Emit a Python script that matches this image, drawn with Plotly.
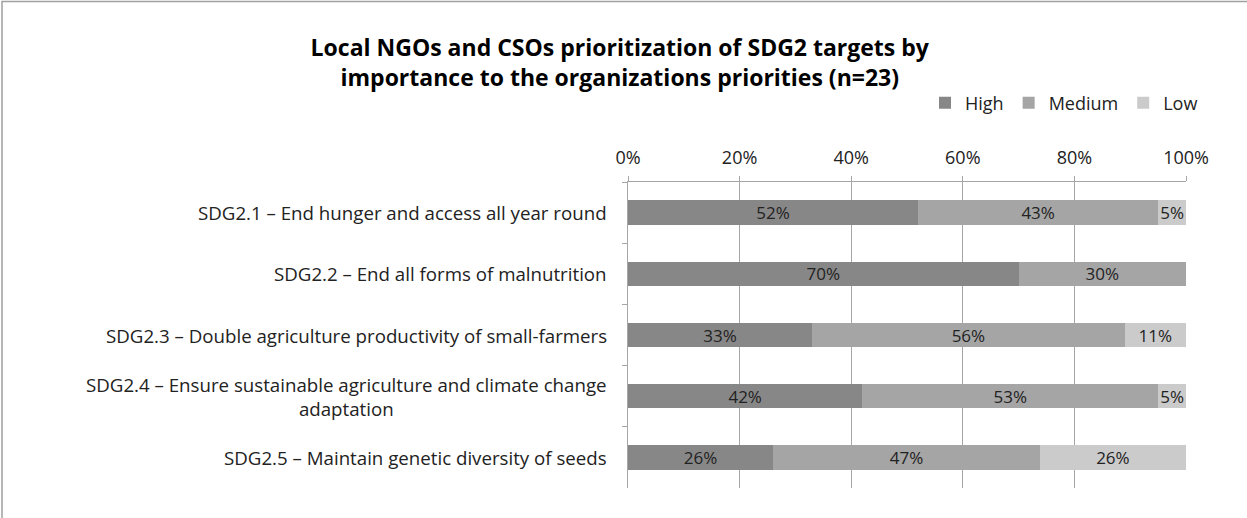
import plotly.graph_objects as go

categories = [
    "SDG2.1 – End hunger and access all year round",
    "SDG2.2 – End all forms of malnutrition",
    "SDG2.3 – Double agriculture productivity of small-farmers",
    "SDG2.4 – Ensure sustainable agriculture and climate change<br>adaptation",
    "SDG2.5 – Maintain genetic diversity of seeds",
]
high = [52, 70, 33, 42, 26]
medium = [43, 30, 56, 53, 47.8]
low = [5, 0, 11, 5, 26.2]
high_labels = ["52%", "70%", "33%", "42%", "26%"]
medium_labels = ["43%", "30%", "56%", "53%", "47%"]
low_labels = ["5%", "", "11%", "5%", "26%"]
x_ticks = [0, 20, 40, 60, 80, 100]
x_tick_text = ["0%", "20%", "40%", "60%", "80%", "100%"]

FONT = "Open Sans"
FS = 18
W, H = 1247, 518
L, R, T, B = 628, 61, 182, 30
pw, ph = W - L - R, H - T - B

def px_x(p):
    return (p - L) / pw

def px_y(p):
    return (H - B - p) / ph

ids = list(range(len(categories)))

fig = go.Figure()
for name, vals, labs, col in [
    ("High", high, high_labels, "#878787"),
    ("Medium", medium, medium_labels, "#A5A5A5"),
    ("Low", low, low_labels, "#CBCBCB"),
]:
    fig.add_trace(go.Bar(
        name=name, y=ids, x=vals, orientation="h",
        marker=dict(color=col, line=dict(width=0)),
        text=labs, textposition="inside", insidetextanchor="middle",
        constraintext="none",
        textfont=dict(family=FONT, size=17, color="#222222"),
        hoverinfo="skip", cliponaxis=False,
    ))

annotations = []
for i, c in enumerate(categories):
    annotations.append(dict(
        x=px_x(609), xref="paper", y=i, yref="y",
        text=c, showarrow=False, xanchor="right", yanchor="middle",
        align="center", font=dict(family=FONT, size=18.7, color="#222222"),
    ))

fig.update_layout(
    width=W, height=H,
    margin=dict(l=L, r=R, t=T, b=B),
    paper_bgcolor="white", plot_bgcolor="white",
    barmode="stack", bargap=0.6,
    uniformtext=dict(mode=False),
    title=dict(
        text="Local NGOs and CSOs prioritization of SDG2 targets by<br>importance to the organizations priorities (n=23)",
        x=0.497, xanchor="center", y=1 - 56 / H, yanchor="middle",
        font=dict(family=FONT, size=23, color="#000000", weight="bold"),
    ),
    legend=dict(
        orientation="h", x=px_x(1203), xanchor="right",
        y=px_y(103), yanchor="middle", traceorder="normal",
        font=dict(family=FONT, size=FS, color="#222222"),
        itemwidth=30, tracegroupgap=0, bgcolor="rgba(0,0,0,0)",
    ),
    annotations=annotations,
    shapes=[dict(
        type="rect", xref="paper", yref="paper",
        x0=px_x(2), x1=px_x(1300), y0=px_y(560), y1=px_y(1.5),
        line=dict(color="#A0A0A0", width=1.5), layer="below",
    )],
    showlegend=True,
)
fig.update_xaxes(
    side="top", range=[0, 100], tickvals=x_ticks, ticktext=x_tick_text,
    showgrid=True, gridcolor="#A6A6A6", gridwidth=1,
    showline=True, linecolor="#A6A6A6", linewidth=1,
    ticks="outside", ticklen=5, tickcolor="#A6A6A6", ticklabelstandoff=5,
    tickfont=dict(family=FONT, size=FS, color="#222222"),
    zeroline=False, fixedrange=True,
)
fig.update_yaxes(
    type="category", autorange="reversed",
    showticklabels=False, ticks="outside", tickson="boundaries",
    ticklen=5, tickcolor="#A6A6A6",
    showline=True, linecolor="#A6A6A6", linewidth=1,
    showgrid=False, zeroline=False, fixedrange=True,
)

fig.write_html(
    "out.html",
    config={"displayModeBar": False, "staticPlot": True},
    post_script="document.body.style.margin='0';document.body.style.overflow='hidden';",
)
